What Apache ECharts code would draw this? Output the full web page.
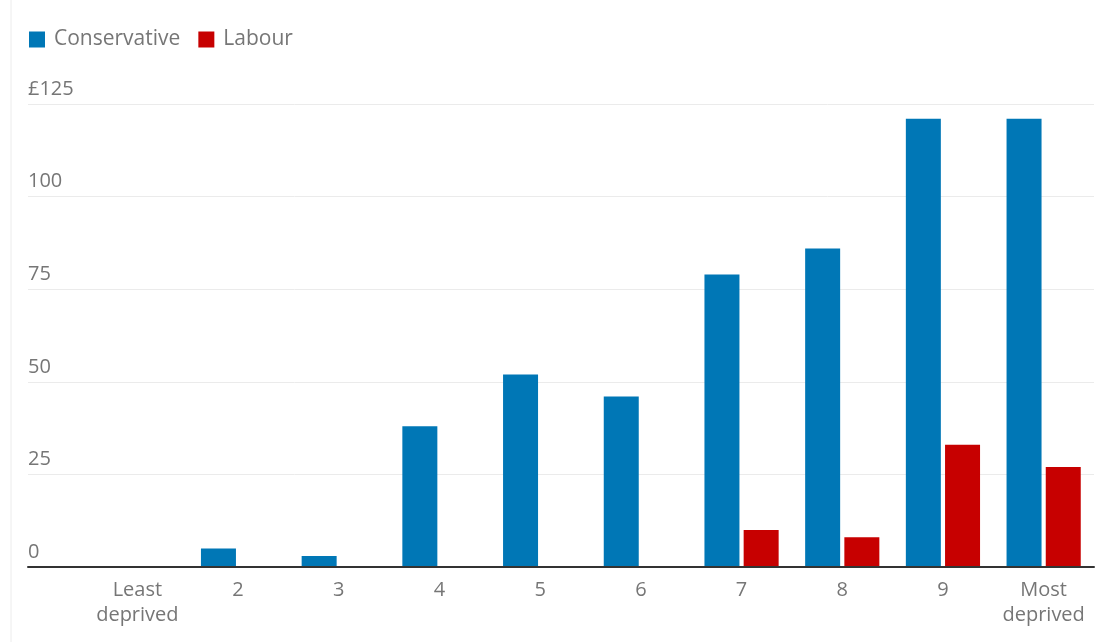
<!DOCTYPE html>
<html>
<head>
<meta charset="utf-8">
<script src="https://cdn.jsdelivr.net/npm/echarts@6/dist/echarts.min.js"></script>
<style>
html,body{margin:0;padding:0;background:#fff;}
#chart{width:1099px;height:642px;}
</style>
</head>
<body>
<div id="chart"></div>
<script>
var categories = ['Least\ndeprived', '2', '3', '4', '5', '6', '7', '8', '9', 'Most\ndeprived'];
var conservative = [0, 5, 3, 38, 52, 46, 79, 86, 121, 121];
var labour = [0, 0, 0, 0, 0, 0, 10, 8, 33, 27];
var yTicks = [0, 25, 50, 75, 100, 125];

var FONT = "'Open Sans', 'Noto Sans', sans-serif";
var GREY = '#767676';

var chart = echarts.init(document.getElementById('chart'));
chart.setOption({
  animation: false,
  textStyle: { fontFamily: FONT },
  graphic: [{
    type: 'line',
    shape: { x1: 11, y1: 0, x2: 11, y2: 642 },
    style: { stroke: '#ececec', lineWidth: 1 }
  }],
  legend: {
    left: 29, top: 29, padding: 0,
    itemWidth: 16, itemHeight: 16, itemGap: 18,
    icon: 'rect',
    textStyle: { fontFamily: FONT, fontSize: 21, color: GREY, padding: [0, 0, 0, 4] },
    data: ['Conservative', 'Labour']
  },
  grid: [
    { left: 28, right: 5, top: 104, bottom: 75 },
    { left: 87, right: 5, top: 104, bottom: 75 }
  ],
  xAxis: [
    { type: 'category', gridIndex: 0, data: [''], axisTick: { show: false }, axisLabel: { show: false },
      axisLine: { show: true, lineStyle: { color: '#333', width: 2 } }, z: 5 },
    { type: 'category', gridIndex: 1, data: categories,
      axisTick: { show: false }, axisLine: { show: false },
      axisLabel: { color: GREY, fontFamily: FONT, fontSize: 20, lineHeight: 25, margin: 11, interval: 0 } }
  ],
  yAxis: [
    { type: 'value', gridIndex: 0, min: yTicks[0], max: yTicks[yTicks.length - 1], interval: 25,
      axisLine: { show: false }, axisTick: { show: false },
      splitLine: { lineStyle: { color: '#ebebeb', width: 1 } },
      axisLabel: { inside: true, margin: 0, verticalAlign: 'bottom', color: GREY, fontFamily: FONT, fontSize: 20,
        padding: [0, 0, 5, 0],
        formatter: function (v) { return v === 125 ? '£125' : String(v); } } },
    { type: 'value', gridIndex: 1, min: yTicks[0], max: yTicks[yTicks.length - 1], interval: 25,
      axisLine: { show: false }, axisTick: { show: false }, axisLabel: { show: false }, splitLine: { show: false } }
  ],
  series: [
    { name: 'Conservative', type: 'bar', xAxisIndex: 1, yAxisIndex: 1, data: conservative,
      barWidth: 35, barGap: '12%', itemStyle: { color: '#0077b6' } },
    { name: 'Labour', type: 'bar', xAxisIndex: 1, yAxisIndex: 1, data: labour,
      barWidth: 35, barGap: '12%', itemStyle: { color: '#c70000' } }
  ]
});
</script>
</body>
</html>
